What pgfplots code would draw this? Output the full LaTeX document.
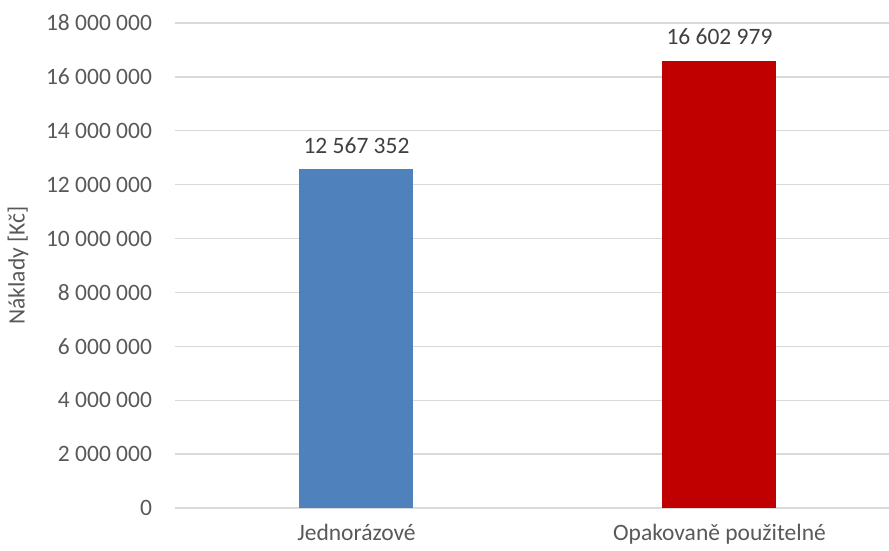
\documentclass[border=0pt]{standalone}
\usepackage{pgfplots}
\pgfplotsset{compat=1.18}
\usepackage{fontspec}
\setmainfont{Carlito}
\definecolor{txtgray}{HTML}{595959}
\definecolor{gridgray}{HTML}{D9D9D9}
\definecolor{barblue}{HTML}{4F81BD}
\definecolor{barred}{HTML}{C00000}
\begin{document}
\fontsize{23.5pt}{28pt}\selectfont
\begin{tikzpicture}
\path[use as bounding box] (-175pt,-43pt) rectangle (714pt,508pt);
\begin{axis}[
  at={(0,0)}, anchor=south west,
  scale only axis,
  width=714pt, height=485pt,
  xmin=-0.5, xmax=1.467,
  ymin=0, ymax=18000000,
  scaled y ticks=false,
  xtick={0,1},
  xticklabels={Jednorázové,Opakovaně použitelné},
  ytick={0,2000000,4000000,6000000,8000000,10000000,12000000,14000000,16000000,18000000},
  yticklabels={0,2 000 000,4 000 000,6 000 000,8 000 000,10 000 000,12 000 000,14 000 000,16 000 000,18 000 000},
  axis x line*=bottom,
  axis y line*=left,
  x axis line style={gridgray, line width=1.3pt, -},
  y axis line style={draw=none},
  ymajorgrids,
  grid style={gridgray, line width=1.3pt},
  major tick length=0pt,
  tick style={draw=none},
  ticklabel style={text=txtgray, font=\fontsize{23.5pt}{28pt}\selectfont},
  yticklabel style={xshift=-15pt},
  xticklabel style={yshift=-8pt},
  ylabel={Náklady [Kč]},
  every axis y label/.style={at={(-157pt,0.5)}, rotate=90, anchor=center, text=txtgray, font=\fontsize{23.5pt}{28pt}\selectfont},
  clip=false,
  nodes near coords,
  point meta=explicit symbolic,
  every node near coord/.append style={text=black!75, font=\fontsize{23.5pt}{28pt}\selectfont, yshift=8pt},
]
\addplot[ybar, bar shift=0pt, bar width=114pt, fill=barblue, draw=none] coordinates {(0,12567352) [12 567 352]};
\addplot[ybar, bar shift=0pt, bar width=114pt, fill=barred, draw=none] coordinates {(1,16602979) [16 602 979]};
\end{axis}
\end{tikzpicture}
\end{document}
